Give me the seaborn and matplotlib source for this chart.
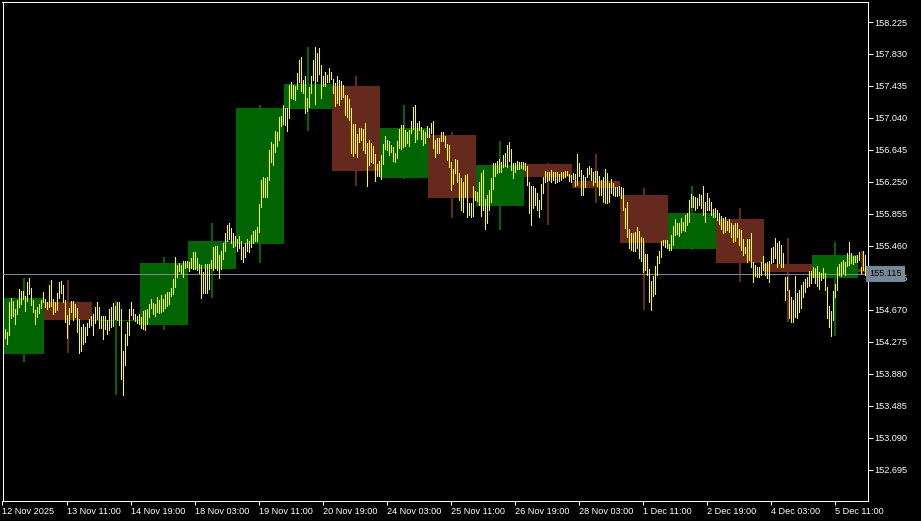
import numpy as np
import pandas as pd
import matplotlib
matplotlib.use('Agg')
import matplotlib.pyplot as plt
import matplotlib.transforms as mtransforms
import seaborn as sns

# hourly bars (index 0 = 12 Nov 04:00), high / low
HOURLY_HIGH = [
    154.435, 154.402, 154.764, 154.822, 154.781, 154.682, 154.793, 154.929, 154.908, 154.904,
    154.847, 155.011, 155.069, 154.945, 154.793, 154.674, 154.711, 154.744, 154.793, 154.896,
    154.806, 154.773, 154.978, 155.040, 154.806, 154.764, 154.875, 155.011, 155.028, 154.978,
    154.793, 154.608, 154.690, 154.781, 154.781, 154.748, 154.690, 154.559, 154.464, 154.497,
    154.464, 154.513, 154.559, 154.600, 154.616, 154.707, 154.768, 154.707, 154.596, 154.600,
    154.596, 154.550, 154.686, 154.711, 154.752, 154.719, 154.773, 154.768, 154.682, 154.164,
    154.373, 154.522, 154.682, 154.768, 154.682, 154.620, 154.596, 154.620, 154.579, 154.657,
    154.674, 154.682, 154.748, 154.806, 154.756, 154.740, 154.830, 154.793, 154.855, 154.806,
    154.863, 154.888, 154.896, 154.945, 155.052, 155.324, 155.225, 155.254, 155.225, 155.275,
    155.275, 155.279, 155.258, 155.316, 155.390, 155.390, 155.308, 155.233, 155.225, 155.135,
    155.233, 155.233, 155.233, 155.287, 155.447, 155.456, 155.456, 155.349, 155.400, 155.500,
    155.620, 155.720, 155.750, 155.680, 155.620, 155.580, 155.550, 155.580, 155.520, 155.450,
    155.500, 155.550, 155.520, 155.600, 155.650, 155.660, 155.690, 155.980, 156.275, 156.316,
    156.295, 156.316, 156.645, 156.744, 156.719, 156.880, 156.867, 157.048, 157.065, 157.201,
    157.159, 157.164, 157.448, 157.480, 157.448, 157.439, 157.592, 157.756, 157.789, 157.509,
    157.559, 157.283, 157.419, 157.559, 157.756, 157.912, 157.847, 157.900, 157.694, 157.559,
    157.604, 157.571, 157.653, 157.604, 157.517, 157.476, 157.559, 157.509, 157.501, 157.448,
    157.324, 157.324, 157.271, 157.159, 156.966, 156.962, 156.843, 156.913, 156.913, 156.900,
    156.974, 156.727, 156.769, 156.736, 156.695, 156.596, 156.472, 156.513, 156.583, 156.719,
    156.818, 156.769, 156.756, 156.703, 156.686, 156.604, 156.760, 156.900, 156.954, 156.954,
    156.892, 156.871, 156.892, 156.999, 157.176, 157.201, 156.974, 157.003, 156.925, 156.892,
    156.867, 156.941, 156.921, 156.974, 157.003, 156.769, 156.789, 156.797, 156.871, 156.871,
    156.818, 156.719, 156.707, 156.501, 156.406, 156.530, 156.522, 156.357, 156.295, 156.254,
    156.337, 156.349, 155.987, 155.995, 156.201, 156.143, 156.131, 156.254, 156.365, 156.398,
    156.040, 156.090, 156.151, 156.295, 156.481, 156.489, 156.513, 156.530, 156.501, 156.583,
    156.604, 156.707, 156.748, 156.657, 156.481, 156.489, 156.513, 156.501, 156.501, 156.493,
    156.481, 156.448, 156.254, 156.201, 156.201, 156.172, 156.118, 156.028, 156.225, 156.316,
    156.386, 156.378, 156.378, 156.398, 156.378, 156.378, 156.369, 156.345, 156.378, 156.378,
    156.390, 156.390, 156.345, 156.337, 156.357, 156.349, 156.596, 156.481, 156.398, 156.337,
    156.316, 156.419, 156.448, 156.419, 156.378, 156.390, 156.390, 156.324, 156.275, 156.316,
    156.411, 156.357, 156.234, 156.283, 156.234, 156.193, 156.193, 156.201, 156.184, 156.172,
    155.925, 156.007, 155.666, 155.625, 155.616, 155.637, 155.699, 155.645, 155.575, 155.555,
    155.361, 155.361, 155.176, 155.032, 155.090, 155.217, 155.337, 155.403, 155.522, 155.534,
    155.534, 155.534, 155.485, 155.596, 155.707, 155.794, 155.740, 155.748, 155.802, 155.761,
    155.843, 155.864, 156.028, 156.102, 156.077, 156.069, 156.049, 156.102, 156.090, 156.201,
    156.008, 156.119, 156.049, 156.008, 155.913, 155.925, 155.905, 155.864, 155.831, 155.802,
    155.814, 155.773, 155.789, 155.740, 155.720, 155.748, 155.740, 155.666, 155.658, 155.543,
    155.452, 155.543, 155.543, 155.625, 155.267, 155.226, 155.197, 155.197, 155.267, 155.337,
    155.246, 155.267, 155.275, 155.432, 155.452, 155.555, 155.493, 155.522, 155.473, 155.378,
    155.082, 155.074, 154.917, 154.827, 154.794, 155.090, 154.876, 154.917, 154.979, 155.020,
    155.049, 155.074, 155.156, 155.156, 155.197, 155.185, 155.213, 155.143, 155.123, 155.185,
    155.131, 154.950, 154.720, 154.662, 154.909, 154.991, 155.197, 155.238, 155.267, 155.288,
    155.267, 155.378, 155.510, 155.370, 155.337, 155.337, 155.349, 155.390, 155.197, 155.403,
    155.349,
]
HOURLY_LOW = [
    154.328, 154.246, 154.361, 154.575, 154.600, 154.501, 154.616, 154.711, 154.748, 154.806,
    154.657, 154.781, 154.863, 154.731, 154.649, 154.501, 154.587, 154.629, 154.699, 154.764,
    154.711, 154.682, 154.711, 154.723, 154.624, 154.641, 154.670, 154.822, 154.875, 154.773,
    154.526, 154.328, 154.493, 154.641, 154.546, 154.587, 154.402, 154.143, 154.164, 154.250,
    154.279, 154.361, 154.460, 154.485, 154.361, 154.513, 154.559, 154.443, 154.452, 154.312,
    154.435, 154.373, 154.419, 154.460, 154.472, 154.559, 154.546, 154.485, 153.818, 153.621,
    153.991, 154.238, 154.361, 154.608, 154.559, 154.530, 154.513, 154.493, 154.443, 154.435,
    154.423, 154.493, 154.583, 154.690, 154.616, 154.600, 154.641, 154.633, 154.641, 154.657,
    154.699, 154.715, 154.748, 154.847, 154.863, 154.958, 155.081, 155.151, 155.122, 155.073,
    155.184, 155.205, 155.155, 155.184, 155.176, 155.176, 155.163, 155.122, 154.822, 154.875,
    154.875, 154.875, 154.929, 155.184, 155.159, 155.192, 155.168, 155.069, 155.170, 155.300,
    155.400, 155.520, 155.550, 155.500, 155.450, 155.460, 155.400, 155.440, 155.300, 155.260,
    155.320, 155.400, 155.380, 155.450, 155.500, 155.520, 155.520, 155.630, 155.946, 156.069,
    156.069, 156.061, 156.275, 156.501, 156.460, 156.625, 156.695, 156.769, 156.941, 156.966,
    156.954, 156.884, 157.040, 157.283, 157.271, 157.262, 157.394, 157.489, 157.378, 157.345,
    157.106, 157.131, 157.172, 157.353, 157.509, 157.213, 157.497, 157.583, 157.283, 157.435,
    157.439, 157.480, 157.489, 157.517, 157.353, 157.188, 157.221, 157.201, 157.271, 157.295,
    157.077, 157.057, 157.015, 156.604, 156.571, 156.604, 156.563, 156.748, 156.769, 156.645,
    156.604, 156.205, 156.460, 156.501, 156.481, 156.267, 156.324, 156.324, 156.291, 156.472,
    156.653, 156.645, 156.583, 156.620, 156.509, 156.501, 156.542, 156.666, 156.653, 156.686,
    156.695, 156.727, 156.695, 156.851, 156.900, 156.748, 156.777, 156.892, 156.777, 156.707,
    156.736, 156.810, 156.810, 156.851, 156.666, 156.563, 156.612, 156.612, 156.756, 156.760,
    156.678, 156.522, 156.439, 156.151, 156.225, 156.365, 156.254, 156.028, 155.905, 155.884,
    156.069, 155.814, 155.843, 155.814, 155.830, 156.028, 156.020, 155.966, 155.830, 155.905,
    155.666, 155.748, 155.905, 156.007, 156.160, 156.324, 156.365, 156.378, 156.378, 156.431,
    156.448, 156.439, 156.513, 156.398, 156.295, 156.378, 156.406, 156.406, 156.419, 156.406,
    156.398, 156.213, 155.872, 155.719, 155.925, 155.966, 155.905, 155.822, 155.913, 156.110,
    156.254, 156.267, 156.275, 156.254, 156.275, 156.242, 156.254, 156.267, 156.275, 156.295,
    156.308, 156.337, 156.267, 156.254, 156.283, 156.201, 156.213, 156.324, 156.090, 156.090,
    156.193, 156.316, 156.345, 156.275, 156.213, 156.254, 156.201, 156.090, 156.090, 156.007,
    155.995, 155.995, 156.007, 156.110, 156.090, 156.077, 156.081, 156.090, 156.048, 155.905,
    155.678, 155.575, 155.431, 155.411, 155.403, 155.403, 155.431, 155.308, 155.279, 155.143,
    155.164, 155.102, 154.773, 154.670, 154.843, 154.868, 155.102, 155.254, 155.329, 155.473,
    155.452, 155.432, 155.411, 155.411, 155.473, 155.596, 155.608, 155.584, 155.637, 155.658,
    155.650, 155.720, 155.752, 155.946, 155.938, 155.905, 155.925, 155.966, 155.925, 155.843,
    155.761, 155.905, 155.905, 155.843, 155.822, 155.814, 155.781, 155.732, 155.666, 155.617,
    155.637, 155.658, 155.637, 155.576, 155.514, 155.526, 155.576, 155.473, 155.411, 155.349,
    155.370, 155.267, 155.288, 155.197, 155.020, 155.090, 155.082, 155.082, 155.102, 155.164,
    155.102, 155.061, 155.020, 155.255, 155.267, 155.308, 155.205, 155.246, 155.197, 155.197,
    154.794, 154.917, 154.567, 154.526, 154.526, 154.588, 154.567, 154.650, 154.691, 154.835,
    154.897, 154.950, 154.967, 155.000, 155.082, 155.000, 154.967, 154.925, 155.041, 155.061,
    154.917, 154.567, 154.465, 154.349, 154.547, 154.835, 154.917, 155.102, 155.090, 155.123,
    155.102, 155.213, 155.226, 155.246, 155.238, 155.267, 155.267, 155.288, 155.131, 155.164,
    155.102,
]

# daily candles drawn behind the hourly bars
DAY_FIRST = [0, 20, 44, 68, 92, 116, 140, 164, 188, 212, 236, 260, 284, 308, 332, 356, 380, 404, 427]
DAY_BARS = [20, 24, 24, 24, 24, 24, 24, 24, 24, 24, 24, 24, 24, 24, 24, 24, 24, 23, 4]
DAY_OPEN = [154.131, 154.768, 154.540, 154.489, 155.172, 155.485, 157.151, 157.435, 156.304, 156.830,
            155.954, 156.472, 156.262, 156.090, 155.423, 155.794, 155.238, 155.069, 155.176]
DAY_HIGH = [155.069, 155.040, 154.781, 155.324, 155.750, 157.201, 157.917, 157.559, 157.201, 156.871,
            156.756, 156.485, 156.596, 156.176, 156.201, 155.929, 155.559, 155.510, 155.403]
DAY_LOW = [154.032, 154.139, 153.621, 154.427, 154.822, 155.250, 156.884, 156.205, 156.291, 155.810,
           155.658, 155.719, 155.995, 154.670, 155.411, 155.020, 154.526, 154.353, 155.102]
DAY_CLOSE = [154.822, 154.546, 154.552, 155.250, 155.521, 157.164, 157.460, 156.386, 156.917, 156.057,
             156.460, 156.316, 156.180, 155.493, 155.868, 155.250, 155.139, 155.349, 155.139]

X_TICK_BARS = [32 * k - 1 for k in range(14)]
X_TICK_LABELS = ['12 Nov 2025', '13 Nov 11:00', '14 Nov 19:00', '18 Nov 03:00', '19 Nov 11:00',
                 '20 Nov 19:00', '24 Nov 03:00', '25 Nov 11:00', '26 Nov 19:00', '28 Nov 03:00',
                 '1 Dec 11:00', '2 Dec 19:00', '4 Dec 03:00', '5 Dec 11:00']
Y_TICKS = [152.695, 153.090, 153.485, 153.880, 154.275, 154.670, 155.065, 155.460,
           155.855, 156.250, 156.645, 157.040, 157.435, 157.830, 158.225]
LAST_PRICE = 155.115

BULL = '#006400'
BEAR = '#66291e'
BAR_COLOR = '#ffff00'
LINE_COLOR = '#778899'

sns.set_theme(style='dark', rc={
    'figure.facecolor': 'black', 'axes.facecolor': 'black', 'axes.edgecolor': 'white',
    'axes.grid': False, 'text.color': 'white', 'xtick.color': 'white', 'ytick.color': 'white',
    'axes.linewidth': 0.72,
})
plt.rcParams['font.family'] = ['Liberation Sans', 'DejaVu Sans']

W, H = 921, 521
fig = plt.figure(figsize=(W / 100, H / 100), dpi=100)
ax = fig.add_axes([2.5 / W, (H - 500.5) / H, 865 / W, 499 / H])

for first, n, o, hi, lo, c in zip(DAY_FIRST, DAY_BARS, DAY_OPEN, DAY_HIGH, DAY_LOW, DAY_CLOSE):
    color = BULL if c >= o else BEAR
    left = first - 0.25
    ax.vlines(left + n / 2, lo, hi, color=color, linewidth=1.44, antialiased=False, zorder=1)
    ax.bar(left, max(abs(c - o), 0.012), bottom=min(o, c), width=n, align='edge',
           color=color, linewidth=0, antialiased=False, zorder=2)

ax.axhline(LAST_PRICE, color=LINE_COLOR, linewidth=0.7, antialiased=False, zorder=3)

bars = pd.DataFrame({
    'bar': np.repeat(np.arange(len(HOURLY_HIGH)), 2),
    'price': np.column_stack([HOURLY_LOW, HOURLY_HIGH]).ravel(),
})
sns.lineplot(data=bars, x='bar', y='price', units='bar', estimator=None, sort=False,
             color=BAR_COLOR, linewidth=0.6, antialiased=False, solid_capstyle='butt',
             legend=False, ax=ax, zorder=4)

ax.set_xlim(-1, 431.5)
ax.set_ylim(158.225 - 478.5 * 0.012344, 158.225 + 20.5 * 0.012344)
ax.set_xlabel('')
ax.set_ylabel('')

ax.yaxis.tick_right()
ax.set_yticks(Y_TICKS)
ax.set_yticklabels([f'{v:.3f}' for v in Y_TICKS])
ax.set_xticks(X_TICK_BARS)
ax.set_xticklabels(X_TICK_LABELS)
for lbl in ax.get_xticklabels():
    lbl.set_horizontalalignment('left')
ax.tick_params(axis='y', right=True, left=False, length=3.6, width=0.72, pad=1.2,
               labelsize=6.6, colors='white')
ax.tick_params(axis='x', bottom=True, length=3.2, width=0.72, pad=1.5,
               labelsize=6.6, colors='white')
for sp in ax.spines.values():
    sp.set_color('white')
    sp.set_linewidth(0.72)
    sp.set_visible(True)

trans = mtransforms.blended_transform_factory(ax.transAxes, ax.transData)
ax.text(1.0025, LAST_PRICE, f'{LAST_PRICE:.3f}', transform=trans, ha='left', va='center',
        fontsize=6.6, color='black', zorder=6, clip_on=False,
        bbox=dict(boxstyle='square,pad=0.35', facecolor=LINE_COLOR, edgecolor='none'))

fig.savefig('out.png', dpi=100, facecolor='black')
